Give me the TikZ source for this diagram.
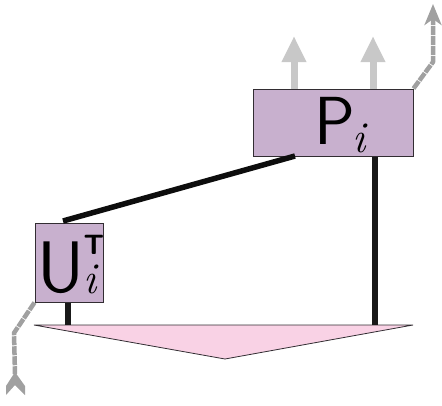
\documentclass[tikz,border=0pt]{standalone}
\usetikzlibrary{arrows.meta}
\definecolor{boxfill}{RGB}{200,176,206}
\definecolor{boxline}{RGB}{50,45,50}
\definecolor{trifill}{RGB}{249,210,229}
\definecolor{lightarr}{RGB}{200,200,200}
\definecolor{dasharr}{RGB}{160,160,160}
\newcommand{\subifont}{\rmfamily\itshape\fontsize{44}{44}\selectfont}
\newcommand{\supTfont}{\sffamily\bfseries\fontsize{28}{28}\selectfont}
\begin{document}
\begin{tikzpicture}[x=1pt,y=-1pt,
  gatebox/.style={draw=boxline,fill=boxfill,line width=1pt,inner sep=0pt,rectangle},
  legwire/.style={line width=5.5pt,draw=black!90},
  outarrow/.style={draw=lightarr,line width=7pt,-{Triangle[width=23pt,length=26pt]}},
  dashwire/.style={draw=dasharr,line width=4.5pt,dash pattern=on 9pt off 1pt,line join=round},
  biglabel/.style={inner sep=0pt,anchor=base west}
]
\useasboundingbox (0,0) rectangle (442,405);
% triangle
\coordinate (tl) at (34,325);
\coordinate (tr) at (413,325);
\coordinate (tb) at (225,359);
\filldraw[fill=trifill,draw=boxline,line width=0.8pt] (tl) -- (tr) -- (tb) -- cycle;
% legs
\coordinate (uleg) at (68,325);
\coordinate (pleg) at (375,325);
\node[gatebox,minimum width=160pt,minimum height=67pt] (P) at (333,122.5) {};
\node[gatebox,minimum width=68pt,minimum height=79pt] (U) at (69,262.5) {};
\draw[legwire] (U.south -| uleg) -- (uleg);
\draw[legwire] (P.south -| pleg) -- (pleg);
% diagonal wire
\coordinate (ua) at (63,221);
\coordinate (pa) at (295,156);
\draw[line width=5.5pt,black!95] (ua) -- (pa);
% labels
\node[biglabel,font=\sffamily\fontsize{68}{68}\selectfont] (Plab) at (314,144.5)
  {P\kern-3pt\raisebox{-8pt}{\subifont i}};
\node[biglabel,font=\sffamily\fontsize{73}{73}\selectfont] (Ulab) at (37.5,292.3)
  {U\kern-1pt\rlap{\raisebox{37.6pt}{\supTfont T}}\raisebox{-1.2pt}{\subifont i}};
% light output arrows
\coordinate (a1) at (294,89);
\coordinate (a2) at (373,89);
\draw[outarrow] (a1) -- ++(0,-53) coordinate (a1t);
\draw[outarrow] (a2) -- ++(0,-53) coordinate (a2t);
% dashed arrow top right
\coordinate (dk) at (433,62);
\coordinate (dt) at (433,4);
\draw[dashwire,-{Stealth[width=17pt,length=21pt,inset=6pt]}] (P.north east) -- (dk) -- (dt);
% dashed tail bottom left
\coordinate (bk) at (14,333);
\coordinate (bt) at (15,374);
\draw[dashwire] (U.south west) -- (bk) -- (bt);
\fill[dasharr] (15,372) -- (25,386) -- (25,395) -- (15,385) -- (6,395) -- (6,386) -- cycle;
\end{tikzpicture}
\end{document}
